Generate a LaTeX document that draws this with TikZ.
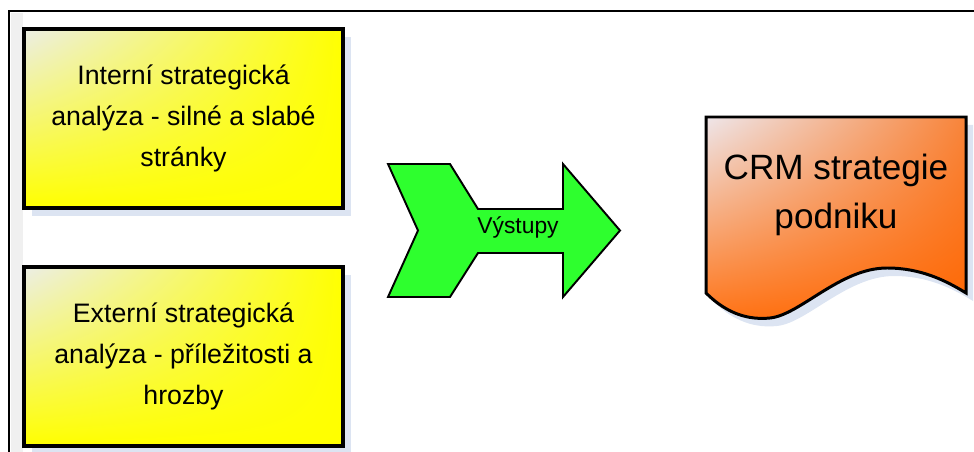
\documentclass[tikz,border=0pt]{standalone}
\usepackage{fontspec}
\setmainfont{Liberation Sans}
\usepackage{xcolor}
\usetikzlibrary{shadows,shadings}

\definecolor{shadowblue}{HTML}{DCE4F2}
\definecolor{boxyellow}{HTML}{FFFF00}
\definecolor{paleyellow}{HTML}{ECEEE6}
\definecolor{outgreen}{HTML}{2EFF2E}
\definecolor{docorange}{HTML}{FF6600}
\definecolor{lightorange}{HTML}{F8843A}
\definecolor{paleorange}{HTML}{EEE6EA}

\begin{document}
\begin{tikzpicture}[x=0.02cm, y=-0.02cm,
    analysis/.style={draw, rectangle, line width=2.3pt, minimum width=6.38cm, minimum height=3.58cm,
        upper left=paleyellow, upper right=boxyellow, lower left=boxyellow, lower right=boxyellow,
        drop shadow={fill=shadowblue, opacity=1, shadow xshift=0.16cm, shadow yshift=-0.16cm},
        align=center, font=\fontsize{15.2}{23.4}\selectfont},
    plaintext/.style={inner sep=0pt, align=center}]
    \useasboundingbox (0,0) rectangle (974,452);

    \fill[gray!12] (11,13) rectangle (23,452);
    \draw[line width=1.1pt] (9,452) -- (9,11) -- (974,11);

    \node (intern) at (183.5,118.5) [analysis] {Interní strategická\\analýza - silné a slabé\\stránky};
    \node (extern) at (183.5,356.5) [analysis] {Externí strategická\\analýza - příležitosti a\\hrozby};

    \draw[line width=1.1pt, fill=outgreen, line join=miter]
        (388,164) -- (450,164) -- (478,209) -- (563,209) -- (563,164) -- (620,230.5)
        -- (563,297) -- (563,253) -- (478,253) -- (450,297) -- (388,297) -- (418,230.5) -- cycle;
    \node (out) at (518,227) [plaintext, font=\fontsize{13}{15}\selectfont] {Výstupy};

    \fill[shadowblue, shift={(7,8)}]
        (706,117) -- (966,117) -- (966,293)
        .. controls (945,280) and (920,268) .. (887,268)
        .. controls (840,268) and (800,315) .. (770,318)
        .. controls (750,320) and (728,315) .. (706,293) -- cycle;
    \draw[line width=1.7pt, upper left=paleorange, upper right=lightorange, lower left=docorange!92!white, lower right=docorange]
        (706,117) -- (966,117) -- (966,293)
        .. controls (945,280) and (920,268) .. (887,268)
        .. controls (840,268) and (800,315) .. (770,318)
        .. controls (750,320) and (728,315) .. (706,293) -- cycle;
    \node (crm) at (836,194.5) [plaintext, font=\fontsize{20}{27.8}\selectfont] {CRM strategie\\podniku};
\end{tikzpicture}
\end{document}
